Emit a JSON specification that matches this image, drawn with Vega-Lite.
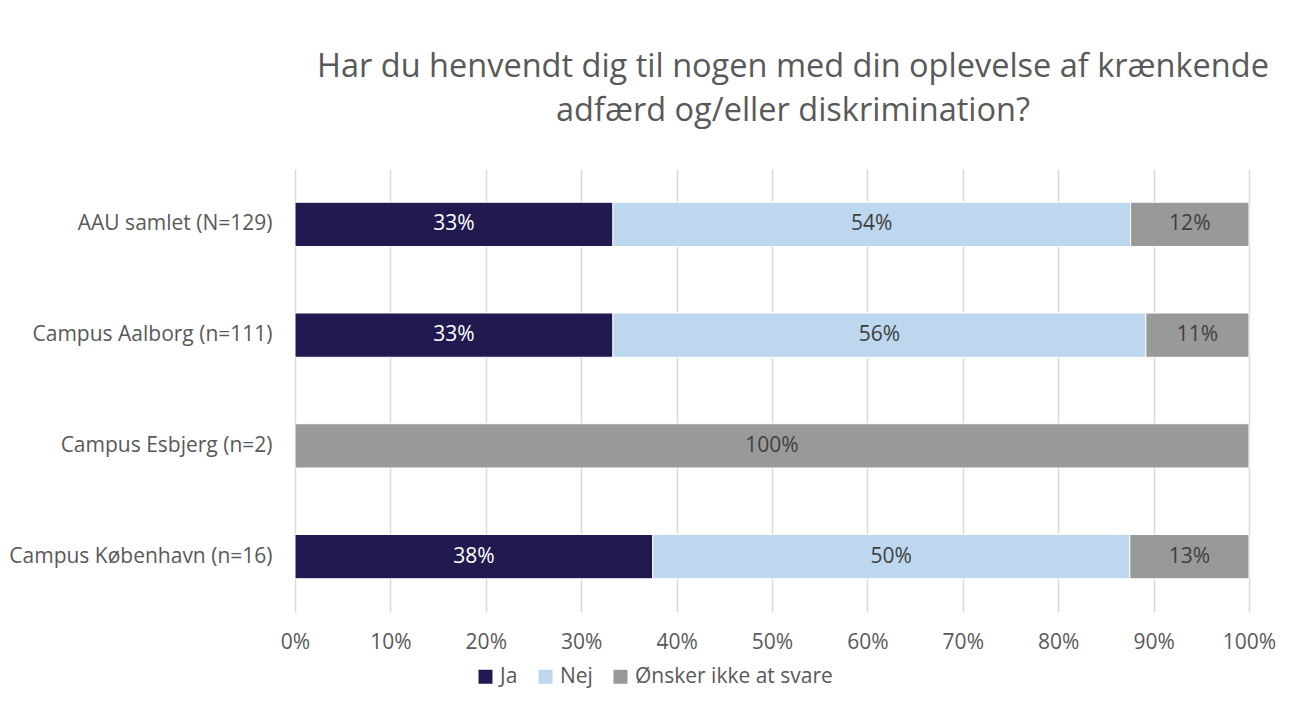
{
  "$schema": "https://vega.github.io/schema/vega-lite/v6.json",
  "width": 954,
  "height": 443,
  "autosize": {"type": "none"},
  "padding": {"left": 295, "top": 169, "right": 41, "bottom": 95},
  "background": "white",
  "config": {"font": "Open Sans", "view": {"stroke": null}},
  "title": {
    "text": ["Har du henvendt dig til nogen med din oplevelse af krænkende", "adfærd og/eller diskrimination?"],
    "font": "Open Sans",
    "fontSize": 32.5,
    "fontWeight": "normal",
    "color": "#595959",
    "anchor": "middle",
    "dx": 21,
    "offset": 42,
    "lineHeight": 44
  },
  "data": {
    "values": [
      {"campus": "AAU samlet (N=129)", "answer": "Ja", "order": 1, "value": 0.3333},
      {"campus": "AAU samlet (N=129)", "answer": "Nej", "order": 2, "value": 0.5426},
      {"campus": "AAU samlet (N=129)", "answer": "Ønsker ikke at svare", "order": 3, "value": 0.1241},
      {"campus": "Campus Aalborg (n=111)", "answer": "Ja", "order": 1, "value": 0.3333},
      {"campus": "Campus Aalborg (n=111)", "answer": "Nej", "order": 2, "value": 0.5586},
      {"campus": "Campus Aalborg (n=111)", "answer": "Ønsker ikke at svare", "order": 3, "value": 0.1081},
      {"campus": "Campus Esbjerg (n=2)", "answer": "Ønsker ikke at svare", "order": 3, "value": 1.0},
      {"campus": "Campus København (n=16)", "answer": "Ja", "order": 1, "value": 0.375},
      {"campus": "Campus København (n=16)", "answer": "Nej", "order": 2, "value": 0.5},
      {"campus": "Campus København (n=16)", "answer": "Ønsker ikke at svare", "order": 3, "value": 0.125}
    ]
  },
  "transform": [
    {"stack": "value", "groupby": ["campus"], "sort": [{"field": "order"}], "as": ["v0", "v1"]},
    {"calculate": "(datum.v0 + datum.v1) / 2", "as": "mid"}
  ],
  "encoding": {
    "y": {
      "field": "campus",
      "type": "nominal",
      "sort": ["AAU samlet (N=129)", "Campus Aalborg (n=111)", "Campus Esbjerg (n=2)", "Campus København (n=16)"],
      "scale": {"paddingInner": 0.6, "paddingOuter": 0.3},
      "axis": {
        "title": null,
        "domain": false,
        "ticks": false,
        "labelPadding": 23,
        "labelFontSize": 21,
        "labelColor": "#595959",
        "labelLimit": 400
      }
    }
  },
  "layer": [
    {
      "mark": {"type": "bar", "stroke": "white", "strokeWidth": 1},
      "encoding": {
        "x": {
          "field": "v0",
          "type": "quantitative",
          "scale": {"domain": [0, 1], "nice": false},
          "axis": {
            "title": null,
            "format": ".0%",
            "values": [0, 0.1, 0.2, 0.3, 0.4, 0.5, 0.6, 0.7, 0.8, 0.9, 1],
            "grid": true,
            "gridColor": "#d9d9d9",
            "gridWidth": 1.5,
            "domain": false,
            "ticks": false,
            "labelFlush": false,
            "labelOverlap": false,
            "labelPadding": 19,
            "labelFontSize": 21,
            "labelColor": "#595959"
          }
        },
        "x2": {"field": "v1"},
        "color": {
          "field": "answer",
          "type": "nominal",
          "scale": {"domain": ["Ja", "Nej", "Ønsker ikke at svare"], "range": ["#211a50", "#bdd7ee", "#999999"]},
          "legend": {
            "title": null,
            "orient": "none",
            "direction": "horizontal",
            "legendX": 180,
            "legendY": 497,
            "symbolType": "square",
            "symbolSize": 196,
            "symbolStrokeWidth": 0,
            "labelFontSize": 21,
            "labelColor": "#595959",
            "labelOffset": 4,
            "labelLimit": 400,
            "columnPadding": 17
          }
        }
      }
    },
    {
      "mark": {"type": "text", "fontSize": 21, "baseline": "middle", "align": "center"},
      "encoding": {
        "x": {"field": "mid", "type": "quantitative"},
        "text": {"field": "value", "type": "quantitative", "format": ".0%"},
        "color": {"condition": {"test": "datum.answer === 'Ja'", "value": "white"}, "value": "#404040"}
      }
    }
  ]
}
